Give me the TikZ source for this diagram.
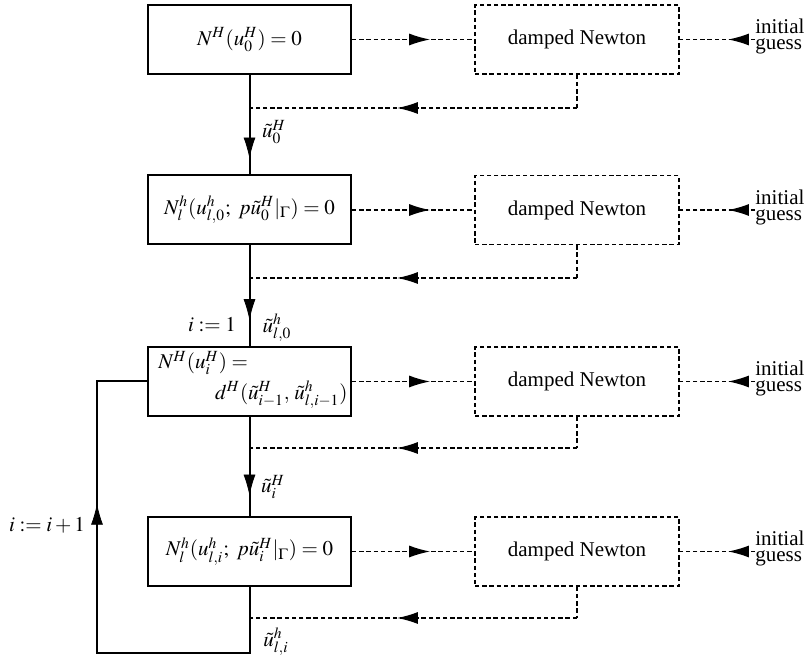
\documentclass[tikz,border=0pt]{standalone}
\usepackage{mathptmx}
\usepackage[no-math]{fontspec}
\setmainfont{Liberation Serif}
\usetikzlibrary{arrows.meta,decorations.markings}
\tikzset{
  solbox/.style={draw,line width=1pt,minimum width=101.5pt,minimum height=34.5pt,inner sep=0pt},
  dashbox/.style={draw,line width=0.8pt,dash pattern=on 2.2pt off 1.4pt,minimum width=102pt,minimum height=34.5pt,inner sep=0pt},
  sline/.style={line width=1pt},
  dline/.style={line width=0.8pt,dash pattern=on 2.2pt off 1.4pt},
  tipmark/.style={postaction={decorate,decoration={markings,mark=at position #1 with {\arrow{Latex[length=10.5pt,width=6pt]}}}}},
  lbl/.style={inner sep=0pt},
}
\begin{document}
\begin{tikzpicture}[x=0.5pt,y=-0.5pt,font=\fontsize{10.5}{11.5}\selectfont]
\path[use as bounding box] (0,0) rectangle (811,657);
% solid boxes
\node[solbox] (b1) at (249.5,39.5) {$N^H(u_0^H)=0$};
\node[solbox] (b2) at (249.5,210) {$N_l^h(u_{l,0}^h;\ p\tilde u_0^H|_{\Gamma})=0$};
\node[solbox] (b3) at (249.5,381.5) {};
\node[lbl,anchor=west] (b3a) at (158,363) {$N^H(u_i^H)=$};
\node[lbl,anchor=east] (b3b) at (348,395) {$d^H(\tilde u_{i-1}^H,\,\tilde u_{l,i-1}^h)$};
\node[solbox] (b4) at (249.5,551.5) {$N_l^h(u_{l,i}^h;\ p\tilde u_i^H|_{\Gamma})=0$};
% dashed boxes
\node[dashbox] (d1) at (577,39.5) {damped Newton};
\node[dashbox] (d2) at (577,210) {damped Newton};
\node[dashbox] (d3) at (577,381.5) {damped Newton};
\node[dashbox] (d4) at (577,551.5) {damped Newton};
% initial guess
\foreach \k/\yy in {1/39.5,2/210,3/381.5,4/551.5}{
  \node[lbl,anchor=west,align=left,font=\fontsize{10.5}{8}\selectfont] (g\k) at (755,\yy-3) {initial\\guess};
  \draw[dline,tipmark=0.36] (g\k.west |- d\k.east) -- (d\k.east);
  \draw[dline,tipmark=0.64] (b\k.east) -- (d\k.west);
}
% return paths
\coordinate (r1) at (577,108);   \coordinate (j1) at (249.5,108);
\coordinate (r2) at (577,278);   \coordinate (j2) at (249.5,278);
\coordinate (r3) at (577,448);   \coordinate (j3) at (249.5,448);
\coordinate (r4) at (577,618);   \coordinate (j4) at (249.5,618);
\foreach \k in {1,2,3,4}{
  \draw[dline] (d\k.south) -- (r\k);
  \draw[dline,tipmark=0.55] (r\k) -- (j\k);
}
% main line
\draw[sline] (b1.south) -- (b2.north);
\draw[sline] (b2.south) -- (b3.north);
\draw[sline] (b3.south) -- (b4.north);
\path[tipmark=0.76] (j1) -- (b2.north);
\path[tipmark=0.62] (j2) -- (b3.north);
\path[tipmark=0.70] (j3) -- (b4.north);
% loop
\coordinate (l1) at (249.5,653);
\coordinate (l2) at (97,653);
\coordinate (l3) at (97,381.5);
\draw[sline] (b4.south) -- (l1) -- (l2) -- (l3) -- (b3.west);
\path[tipmark=0.55] (l2) -- (l3);
% labels
\node[lbl] (t1) at (274,132) {$\tilde u_0^H$};
\node[lbl] (t2a) at (212,325) {$i:=1$};
\node[lbl] (t2b) at (277,328) {$\tilde u_{l,0}^h$};
\node[lbl] (t3) at (273,487) {$\tilde u_i^H$};
\node[lbl] (t4) at (276,642) {$\tilde u_{l,i}^h$};
\node[lbl] (t5) at (47,525) {$i:=i+1$};
\end{tikzpicture}
\end{document}
